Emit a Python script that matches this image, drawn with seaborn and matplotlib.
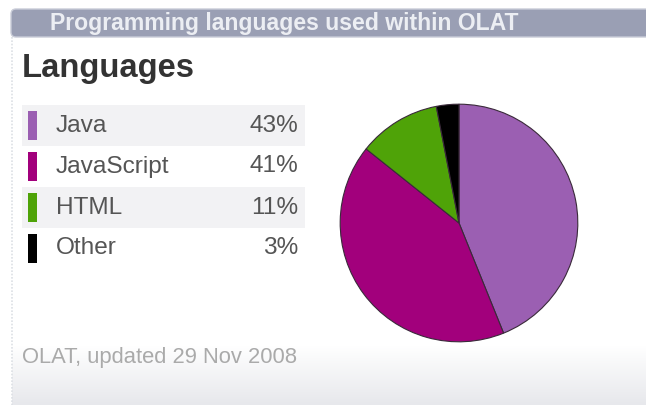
import numpy as np
import matplotlib
matplotlib.use("Agg")
import matplotlib.pyplot as plt
from matplotlib.patches import Rectangle, FancyBboxPatch
import seaborn as sns

# data
languages = ["Java", "JavaScript", "HTML", "Other"]
shares = [43, 41, 11, 3]
lang_colors = ["#9b5fb2", "#a2007c", "#4fa308", "#000000"]

header_text = "Programming languages used within OLAT"
title_text = "Languages"
footer_text = "OLAT, updated 29 Nov 2008"

sns.set_theme(style="white")
plt.rcParams['font.family'] = ['Liberation Sans', 'DejaVu Sans']
palette = sns.color_palette(lang_colors)

W, H = 646, 405
fig = plt.figure(figsize=(W / 100, H / 100), dpi=100)
fig.patch.set_facecolor("white")

# background axes in pixel coordinates
bg = fig.add_axes([0, 0, 1, 1])
bg.set_xlim(0, W)
bg.set_ylim(H, 0)
bg.axis("off")

# bottom gradient
grad = np.linspace(0, 1, 60).reshape(-1, 1)
cmap = matplotlib.colors.LinearSegmentedColormap.from_list("g", ["#ffffff", "#e7e8ec"])
bg.imshow(grad, cmap=cmap, extent=[12, W, H, 345], aspect="auto", zorder=0)

# left border
bg.plot([12, 12], [37, H], color="#dde0e5", lw=1.2, ls=(0, (1, 1)), zorder=1)

# header bar
bg.add_patch(FancyBboxPatch((11, 9), W + 20, 28, boxstyle="round,pad=0,rounding_size=5",
                            facecolor="#9a9fb4", edgecolor="#c9ccd8", lw=1, zorder=2))
bg.text(50, 23.5, header_text, color="#eceef3", fontsize=16.6, fontweight="bold",
        va="center", ha="left", zorder=3)

bg.text(22, 68, title_text, color="#333333", fontsize=23.6, fontweight="bold",
        va="center", ha="left")

# legend rows
row_top, row_h = 105, 41
for i, (lang, val) in enumerate(zip(languages, shares)):
    y0 = row_top + i * row_h
    if i % 2 == 0:
        bg.add_patch(Rectangle((22, y0), 283, row_h, facecolor="#f2f2f4", edgecolor="none", zorder=1))
    bg.add_patch(Rectangle((28, y0 + 6), 9, 29, facecolor=palette[i], edgecolor="none", zorder=2))
    bg.text(56, y0 + row_h / 2, lang, color="#555555", fontsize=17.6, va="center", ha="left", zorder=3)
    bg.text(298, y0 + row_h / 2, f"{val}%", color="#555555", fontsize=17.6, va="center", ha="right", zorder=3)

bg.text(22, 358, footer_text, color="#aaaaaa", fontsize=15.8, va="center", ha="left")

# pie
cx, cy, r = 459, 223, 120
pax = fig.add_axes([(cx - r) / W, (H - cy - r) / H, 2 * r / W, 2 * r / H])
pax.pie(shares, colors=palette, startangle=90, counterclock=False,
        wedgeprops=dict(edgecolor="#3a2a3a", linewidth=0.8))
pax.set_aspect("auto")
pax.set_xlim(-1.01, 1.01)
pax.set_ylim(-1.01, 1.01)
pax.axis("off")

fig.savefig("out.png", dpi=100)
